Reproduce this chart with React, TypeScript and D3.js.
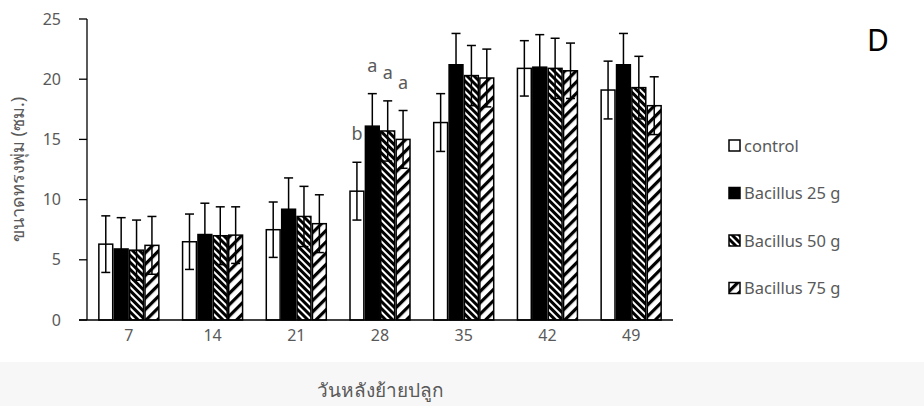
import React from "react";
import * as d3 from "d3";

const categories = ["7", "14", "21", "28", "35", "42", "49"];
const seriesNames = ["control", "Bacillus 25 g", "Bacillus 50 g", "Bacillus 75 g"];

const controlMeans = [6.3, 6.5, 7.5, 10.7, 16.4, 20.9, 19.1];
const controlErr = [2.35, 2.3, 2.3, 2.4, 2.4, 2.3, 2.4];
const b25Means = [5.9, 7.1, 9.2, 16.1, 21.2, 21.0, 21.2];
const b25Err = [2.6, 2.6, 2.6, 2.7, 2.6, 2.7, 2.6];
const b50Means = [5.8, 7.0, 8.6, 15.7, 20.3, 20.9, 19.3];
const b50Err = [2.5, 2.4, 2.5, 2.5, 2.5, 2.5, 2.6];
const b75Means = [6.2, 7.05, 8.0, 15.0, 20.1, 20.7, 17.8];
const b75Err = [2.4, 2.35, 2.4, 2.4, 2.4, 2.3, 2.4];

const letterCategory = "28";
const letters = ["b", "a", "a", "a"];

const yTicks = [0, 5, 10, 15, 20, 25];

const xTitle = "วันหลังย้ายปลูก";
const yTitle = "ขนาดทรงพุ่ม (ซม.)";
const panelLabel = "D";

const series = [
  { name: seriesNames[0], means: controlMeans, errs: controlErr, fill: "#ffffff" },
  { name: seriesNames[1], means: b25Means, errs: b25Err, fill: "#000000" },
  { name: seriesNames[2], means: b50Means, errs: b50Err, fill: "url(#pat50)" },
  { name: seriesNames[3], means: b75Means, errs: b75Err, fill: "url(#pat75)" },
];

const FONT = "'Noto Sans', 'DejaVu Sans', sans-serif";
const GRAY = "#595959";

export default function App() {
  const W = 924, H = 406;
  const x = d3.scaleBand<string>().domain(categories).range([87, 673]);
  const y = d3.scaleLinear().domain([0, 25]).range([320, 19]);
  const inner = d3.scaleBand<string>().domain(seriesNames).range([-30, 30]).paddingInner(0.1);
  const bw = inner.bandwidth();
  const capHalf = 4.5;

  return (
    <svg width={W} height={H} style={{ position: "absolute", left: 0, top: 0, background: "#fff" }}>
      <defs>
        <pattern id="pat50" patternUnits="userSpaceOnUse" width={5} height={5} patternTransform="rotate(-45)">
          <rect width={5} height={5} fill="#fff" />
          <rect width={3} height={5} fill="#000" />
        </pattern>
        <pattern id="pat75" patternUnits="userSpaceOnUse" width={8} height={8} patternTransform="rotate(45)">
          <rect width={8} height={8} fill="#fff" />
          <rect width={3.2} height={8} fill="#000" />
        </pattern>
      </defs>
      <rect x={0} y={0} width={W} height={H} fill="#fff" />
      <rect x={0} y={362} width={W} height={H - 362} fill="#f7f7f7" />

      {/* y axis */}
      <line x1={87} x2={87} y1={y(25)} y2={y(0)} stroke="#000" strokeWidth={1.3} />
      {yTicks.map((t) => (
        <g key={t}>
          <line x1={79} x2={87} y1={y(t)} y2={y(t)} stroke="#000" strokeWidth={1.3} />
          <text x={61} y={y(t)} dy="0.35em" textAnchor="end" fontFamily={FONT} fontSize={16} fill={GRAY}>
            {t}
          </text>
        </g>
      ))}

      {/* bars */}
      {series.map((s) =>
        categories.map((c, i) => {
          const cx = (x(c) as number) + x.bandwidth() / 2 + (inner(s.name) as number);
          return (
            <rect
              key={s.name + c}
              x={cx}
              y={y(s.means[i])}
              width={bw}
              height={y(0) - y(s.means[i])}
              fill={s.fill}
              stroke="#000"
              strokeWidth={1.5}
            />
          );
        })
      )}

      {/* error bars */}
      {series.map((s) =>
        categories.map((c, i) => {
          const mx = (x(c) as number) + x.bandwidth() / 2 + (inner(s.name) as number) + bw / 2;
          const hi = y(s.means[i] + s.errs[i]);
          const lo = y(s.means[i] - s.errs[i]);
          return (
            <g key={"e" + s.name + c} stroke="#000" strokeWidth={1.5}>
              <line x1={mx} x2={mx} y1={hi} y2={lo} />
              <line x1={mx - capHalf} x2={mx + capHalf} y1={hi} y2={hi} />
              <line x1={mx - capHalf} x2={mx + capHalf} y1={lo} y2={lo} />
            </g>
          );
        })
      )}

      {/* x axis */}
      <line x1={79} x2={673} y1={y(0)} y2={y(0)} stroke="#000" strokeWidth={1.3} />
      {categories.map((c) => (
        <text
          key={c}
          x={(x(c) as number) + x.bandwidth() / 2}
          y={341}
          textAnchor="middle"
          fontFamily={FONT}
          fontSize={16}
          fill={GRAY}
        >
          {c}
        </text>
      ))}

      {/* significance letters */}
      {series.map((s, k) => {
        const i = categories.indexOf(letterCategory);
        const mx = (x(letterCategory) as number) + x.bandwidth() / 2 + (inner(s.name) as number) + bw / 2;
        return (
          <text
            key={"l" + k}
            x={mx}
            y={y(s.means[i] + s.errs[i]) - 22}
            textAnchor="middle"
            fontFamily={FONT}
            fontSize={18}
            fill={GRAY}
          >
            {letters[k]}
          </text>
        );
      })}

      {/* titles */}
      <text x={380} y={397} textAnchor="middle" fontFamily={FONT} fontSize={19} fill={GRAY}>
        {xTitle}
      </text>
      <text
        transform={`translate(24,${y(12.5)}) rotate(-90)`}
        textAnchor="middle"
        fontFamily={FONT}
        fontSize={18}
        fill={GRAY}
      >
        {yTitle}
      </text>

      {/* legend */}
      {series.map((s, k) => {
        const ly = 146 + k * 47.5;
        return (
          <g key={"lg" + k}>
            <rect x={729} y={ly - 6} width={11} height={11} fill={s.fill} stroke="#000" strokeWidth={1.5} />
            <text x={744} y={ly} dy="0.35em" fontFamily={FONT} fontSize={16.5} fill={GRAY}>
              {s.name}
            </text>
          </g>
        );
      })}

      <text x={867} y={51} fontFamily={FONT} fontSize={30} fill="#000">
        {panelLabel}
      </text>
    </svg>
  );
}
